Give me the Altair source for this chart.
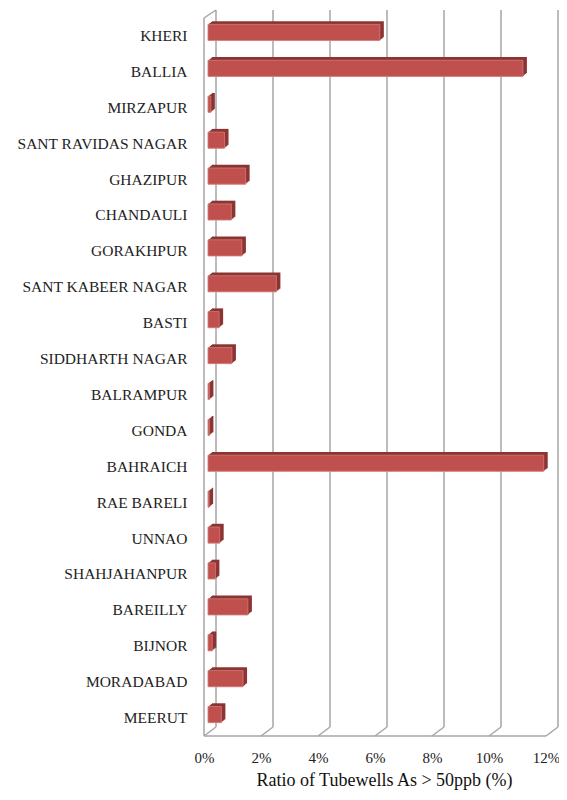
import altair as alt
import pandas as pd

districts = ["KHERI", "BALLIA", "MIRZAPUR", "SANT RAVIDAS NAGAR", "GHAZIPUR",
             "CHANDAULI", "GORAKHPUR", "SANT KABEER NAGAR", "BASTI", "SIDDHARTH NAGAR",
             "BALRAMPUR", "GONDA", "BAHRAICH", "RAE BARELI", "UNNAO",
             "SHAHJAHANPUR", "BAREILLY", "BIJNOR", "MORADABAD", "MEERUT"]
ratio_pct = [6.03, 11.05, 0.10, 0.58, 1.32,
             0.82, 1.19, 2.40, 0.39, 0.84,
             0.05, 0.05, 11.78, 0.04, 0.41,
             0.26, 1.40, 0.15, 1.23, 0.47]
tick_values = [0, 2, 4, 6, 8, 10, 12]

W, H = 342, 718
DX, DY = 12, 9  # 3D depth of the walls
FONT = "Liberation Serif, Times New Roman, serif"
GRID = "#A6A6A6"

df = pd.DataFrame({"district": districts, "ratio": ratio_pct})
tk = pd.DataFrame({"t": tick_values})
one = pd.DataFrame({"a": [0]})

xs = alt.Scale(domain=[0, 12], nice=False, zero=True)
ys = alt.Scale(domain=districts, paddingInner=0.55, paddingOuter=0.275)

xaxis = alt.Axis(values=tick_values, labelExpr="datum.value + '%'", domain=False,
                 ticks=False, tickSize=0, grid=False, labelPadding=14, labelFlush=False,
                 labelFont=FONT, labelFontSize=15, labelColor="#222",
                 title="Ratio of Tubewells As > 50ppb (%)", titleFont=FONT,
                 titleFontSize=18, titleFontWeight="normal", titleColor="#111",
                 titlePadding=6, titleX=W / 2 + 9)
yaxis = alt.Axis(title=None, domain=False, ticks=False, tickSize=0, grid=False,
                 labelPadding=17, labelFont=FONT, labelFontSize=15.5, labelColor="#222")

# back wall gridlines
back_grid = alt.Chart(tk).mark_rule(color=GRID, strokeWidth=1.5, xOffset=DX).encode(
    x=alt.X("t:Q", scale=xs, axis=xaxis),
    y=alt.value(-DY + 1), y2=alt.value(H - DY),
)
# floor diagonals
floor_diag = alt.Chart(tk).mark_rule(color=GRID, strokeWidth=1.5, xOffset=DX, x2Offset=0).encode(
    x=alt.X("t:Q", scale=xs, axis=xaxis), x2="t:Q",
    y=alt.value(H - DY), y2=alt.value(H),
)
# front floor edge
floor_edge = alt.Chart(one).mark_rule(color=GRID, strokeWidth=1.5).encode(
    x=alt.X(datum=0, scale=xs, axis=xaxis), x2=alt.X2(datum=12), y=alt.value(H),
)
# left wall front edge
left_edge = alt.Chart(one).mark_rule(color=GRID, strokeWidth=1.5).encode(
    x=alt.X(datum=0, scale=xs, axis=xaxis), y=alt.value(0), y2=alt.value(H),
)
left_top = alt.Chart(one).mark_rule(color=GRID, strokeWidth=1.5, xOffset=0, x2Offset=DX).encode(
    x=alt.X(datum=0, scale=xs, axis=xaxis), x2=alt.X2(datum=0),
    y=alt.value(0), y2=alt.value(-DY + 1),
)

front = alt.Chart(df).mark_bar(color="#C0504D", stroke="#D9908D", strokeWidth=0.6,
                               xOffset=4, x2Offset=4, yOffset=-3.5, y2Offset=-3.5).encode(
    x=alt.X("ratio:Q", scale=xs, axis=xaxis),
    y=alt.Y("district:N", scale=ys, sort=districts, axis=yaxis),
    tooltip=["district", "ratio"],
)

layers = [front, back_grid, floor_diag, floor_edge, left_edge, left_top]

# bar depth (side + top faces)
for k in [4, 3, 2, 1]:
    layers.append(
        alt.Chart(df).mark_bar(color="#8C3533", xOffset=4 + k, x2Offset=4 + k,
                               yOffset=-3.5 - 0.8 * k, y2Offset=-3.5 - 0.8 * k).encode(
            x=alt.X("ratio:Q", scale=xs, axis=xaxis),
            y=alt.Y("district:N", scale=ys, sort=districts, axis=yaxis),
        )
    )

# front faces drawn last (on top)
front_top = alt.Chart(df).mark_bar(color="#C0504D", stroke="#D9908D", strokeWidth=0.6,
                                   xOffset=4, x2Offset=4, yOffset=-3.5, y2Offset=-3.5).encode(
    x=alt.X("ratio:Q", scale=xs, axis=xaxis),
    y=alt.Y("district:N", scale=ys, sort=districts, axis=yaxis),
)
layers.append(front_top)

chart = alt.layer(*layers).properties(
    width=W, height=H,
    autosize=alt.AutoSizeParams(type="none"),
    padding={"left": 196, "top": 10, "right": 13, "bottom": 56},
    background="white",
).configure_view(stroke=None).configure_axis(labelFont=FONT, titleFont=FONT)

chart.save("out.html", embed_options={"renderer": "svg", "actions": False})
